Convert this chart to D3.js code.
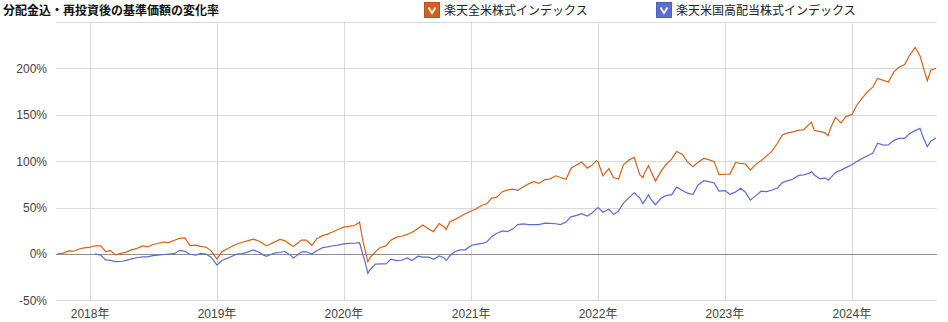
<!DOCTYPE html>
<html>
<head>
<meta charset="utf-8">
<script src="https://cdn.jsdelivr.net/npm/d3@7"></script>
<style>
  body { margin: 0; background: #fff; }
  text { font-family: "Liberation Sans", Arial, "Noto Sans CJK JP", sans-serif; }
  .jp { font-family: "Noto Sans CJK JP", "Liberation Sans", sans-serif; }
</style>
</head>
<body>
<div id="chart"></div>
<script>
// data (roughly semi-monthly points, % change)
var dates = [
  "2017-09-29","2017-10-15","2017-11-01","2017-11-15","2017-12-01","2017-12-15",
  "2018-01-01","2018-01-15","2018-02-01","2018-02-15","2018-03-01","2018-03-15","2018-04-01","2018-04-15","2018-05-01","2018-05-15","2018-06-01","2018-06-15","2018-07-01","2018-07-15","2018-08-01","2018-08-15","2018-09-01","2018-09-15","2018-10-01","2018-10-15","2018-11-01","2018-11-15","2018-12-01","2018-12-15",
  "2019-01-01","2019-01-15","2019-02-01","2019-02-15","2019-03-01","2019-03-15","2019-04-01","2019-04-15","2019-05-01","2019-05-15","2019-05-24","2019-06-01","2019-06-15","2019-07-01","2019-07-15","2019-08-01","2019-08-08","2019-08-15","2019-09-01","2019-09-15","2019-10-01","2019-10-15","2019-11-01","2019-11-15","2019-12-01","2019-12-15",
  "2020-01-01","2020-01-15","2020-02-01","2020-02-15","2020-02-25","2020-03-01","2020-03-10","2020-03-15","2020-04-01","2020-04-15","2020-05-01","2020-05-15","2020-06-01","2020-06-15","2020-07-01","2020-07-15","2020-08-01","2020-08-15","2020-09-01","2020-09-15","2020-10-01","2020-10-15","2020-10-21","2020-11-01","2020-11-15","2020-12-01","2020-12-15",
  "2021-01-01","2021-01-15","2021-02-01","2021-02-15","2021-03-01","2021-03-15","2021-04-01","2021-04-15","2021-05-01","2021-05-15","2021-06-01","2021-06-15","2021-07-01","2021-07-15","2021-08-01","2021-08-15","2021-09-01","2021-09-15","2021-10-01","2021-10-15","2021-11-01","2021-11-15","2021-12-01","2021-12-15","2021-12-27",
  "2022-01-01","2022-01-15","2022-02-01","2022-02-15","2022-03-01","2022-03-15","2022-04-01","2022-04-15","2022-05-01","2022-05-10","2022-05-15","2022-05-26","2022-06-01","2022-06-15","2022-07-01","2022-07-15","2022-08-01","2022-08-15","2022-09-01","2022-09-15","2022-10-01","2022-10-15","2022-11-01","2022-11-15","2022-12-01","2022-12-15",
  "2023-01-01","2023-01-15","2023-02-01","2023-02-15","2023-03-01","2023-03-15","2023-04-01","2023-04-15","2023-05-01","2023-05-15","2023-06-01","2023-06-15","2023-07-01","2023-07-15","2023-08-01","2023-08-15","2023-09-01","2023-09-07","2023-09-15","2023-10-01","2023-10-15","2023-10-25","2023-11-01","2023-11-15","2023-12-01","2023-12-15",
  "2024-01-01","2024-01-15","2024-02-01","2024-02-15","2024-03-01","2024-03-15","2024-04-01","2024-04-15","2024-05-01","2024-05-15","2024-06-01","2024-06-15","2024-07-01","2024-07-15","2024-07-25","2024-08-05","2024-08-15","2024-08-30"
];

// 楽天全米株式インデックス
var zenbei = [
  0, 0.9, 3.3, 2.9, 5.3, 6.6,
  7.3, 8.8, 8.6, 2.4, 3.6, -1.1, 0.6, 1.9, 4.6, 5.7, 8.6, 7.6, 10.2, 11.2, 12.8, 12.2, 14.8, 16.7, 17.2, 8.9, 9.4, 8.2, 7.2, 3.3,
  -5.6, 2.3, 5.9, 8.5, 11.0, 12.6, 14.4, 15.9, 13.9, 10.6, 8.6, 10.1, 12.7, 15.7, 14.3, 10.0, 7.9, 9.8, 15.0, 14.8, 9.3, 16.5, 19.7, 21.4, 23.9, 26.3,
  28.9, 29.6, 30.6, 34.3, 13.4, 5.4, -8.5, -4.5, 2.5, 6.9, 8.6, 14.8, 18.1, 19.0, 21.0, 23.4, 27.3, 31.1, 26.8, 24.0, 32.7, 29.4, 26.2, 34.6, 37.0, 40.4, 43.3,
  46.3, 48.4, 52.5, 54.0, 60.2, 61.0, 67.1, 68.8, 69.8, 68.5, 72.4, 75.5, 77.9, 76.0, 80.1, 80.6, 84.2, 82.4, 80.5, 92.1, 96.0, 99.0, 92.5, 95.7, 100.5,
  99.2, 84.2, 91.9, 82.1, 80.8, 96.0, 101.5, 104.0, 85.5, 82.2, 87.6, 95.2, 90.2, 78.5, 88.9, 96.2, 102.4, 110.5, 107.3, 99.2, 94.0, 98.5, 102.9, 101.6, 99.5, 85.5,
  85.9, 86.0, 98.6, 97.5, 96.9, 90.3, 97.1, 100.5, 105.7, 110.3, 119.3, 128.2, 130.5, 131.5, 133.4, 133.7, 140.2, 142.0, 133.2, 131.8, 130.7, 127.5, 136.1, 147.1, 141.2, 148.0,
  150.1, 160.3, 168.6, 175.0, 179.7, 189.1, 187.0, 185.3, 196.2, 201.2, 204.1, 214.1, 222.7, 213.4, 200.3, 186.7, 198.1, 200.2
];

// 楽天米国高配当株式インデックス (starts Jan 2018)
var kohaitou = [
  null, null, null, null, null, null,
  null, 0, -1.4, -6.5, -7.0, -8.3, -8.2, -6.9, -5.3, -4.1, -3.1, -3.1, -1.9, -1.4, -0.6, -0.1, 0.3, 3.9, 2.8, -0.4, -1.2, 0.5, -0.2, -3.6,
  -12.0, -7.1, -4.5, -2.2, 0.2, 0.3, 2.2, 4.3, 2.0, -1.3, -2.6, -1.2, 0.9, 1.8, 2.6, -1.4, -4.3, -2.7, 2.3, 2.3, -0.2, 3.4, 6.8, 7.5, 8.8, 9.4,
  10.8, 11.4, 11.5, 12.2, -1.4, -7.0, -21.0, -17.5, -11.0, -10.7, -10.7, -5.6, -7.2, -6.8, -4.4, -7.1, -2.5, -3.4, -3.4, -5.8, -2.2, -4.1, -7.2, -2.0, 2.6, 4.3, 4.4,
  9.1, 10.3, 11.3, 12.9, 18.6, 22.1, 24.8, 24.0, 27.0, 31.6, 32.4, 31.6, 31.6, 31.6, 33.1, 32.9, 32.5, 31.6, 34.4, 40.0, 41.6, 43.4, 40.8, 44.1, 48.5,
  50.1, 44.9, 48.1, 42.6, 46.4, 54.8, 61.0, 65.8, 60.2, 54.3, 56.9, 63.9, 59.4, 53.0, 60.0, 62.8, 63.9, 72.0, 68.4, 65.5, 64.0, 74.1, 78.9, 77.9, 76.5, 67.7,
  68.3, 64.3, 66.9, 70.8, 66.5, 57.9, 63.1, 67.6, 67.1, 68.6, 71.1, 76.9, 79.0, 80.5, 84.6, 85.3, 87.0, 88.7, 85.0, 81.0, 82.0, 79.4, 82.2, 87.8, 90.3, 93.0,
  96.2, 99.5, 103.2, 105.9, 108.4, 119.3, 117.2, 117.5, 122.4, 124.5, 124.5, 129.8, 132.9, 135.3, 124.7, 115.6, 121.6, 125.0
];

var seriesNames = ["楽天全米株式インデックス", "楽天米国高配当株式インデックス"];
var seriesColors = ["#d2621a", "#5a6dd3"];
var yTicks = [-50, 0, 50, 100, 150, 200, 250];
var xTickYears = ["2018", "2019", "2020", "2021", "2022", "2023", "2024"];

var svgWidth = 948;
var svgHeight = 322;

var svg = d3.select("#chart")
  .append("svg")
  .attr("width", svgWidth)
  .attr("height", svgHeight);

var parseDate = d3.timeParse("%Y-%m-%d");

var xScale = d3.scaleTime()
  .domain([parseDate("2017-09-25"), parseDate("2024-09-01")])
  .range([56, 936.7]);

var yScale = d3.scaleLinear()
  .domain([-50, 250])
  .range([300.3, 22]);

// gridlines
var grid = svg.append("g");

grid.selectAll("line.h")
  .data(yTicks)
  .enter()
  .append("line")
  .attr("x1", xScale.range()[0])
  .attr("x2", xScale.range()[1])
  .attr("y1", d => Math.round(yScale(d)) + 0.5)
  .attr("y2", d => Math.round(yScale(d)) + 0.5)
  .attr("stroke", "#d9d9d9");

grid.selectAll("line.v")
  .data(xTickYears)
  .enter()
  .append("line")
  .attr("x1", d => Math.round(xScale(parseDate(d + "-01-01"))) + 0.5)
  .attr("x2", d => Math.round(xScale(parseDate(d + "-01-01"))) + 0.5)
  .attr("y1", yScale.range()[1])
  .attr("y2", yScale.range()[0])
  .attr("stroke", "#d9d9d9");

// zero line
svg.append("line")
  .attr("x1", xScale.range()[0])
  .attr("x2", xScale.range()[1])
  .attr("y1", Math.round(yScale(0)) + 0.5)
  .attr("y2", Math.round(yScale(0)) + 0.5)
  .attr("stroke", "#8c8c8c");

// y axis labels
svg.append("g")
  .selectAll("text")
  .data(yTicks.filter(d => d < 250))
  .enter()
  .append("text")
  .attr("x", 47)
  .attr("y", d => yScale(d) + 4.5)
  .attr("text-anchor", "end")
  .attr("font-size", 12)
  .attr("fill", "#444")
  .text(d => d + "%");

// x axis labels
svg.append("g")
  .selectAll("text")
  .data(xTickYears)
  .enter()
  .append("text")
  .attr("x", d => xScale(parseDate(d + "-01-01")))
  .attr("y", 318)
  .attr("text-anchor", "middle")
  .attr("font-size", 12)
  .attr("fill", "#444")
  .text(d => d + "年");

// lines
var rows = dates.map(function(d, i) {
  return { date: parseDate(d), a: zenbei[i], b: kohaitou[i] };
});

var lineA = d3.line()
  .x(d => xScale(d.date))
  .y(d => yScale(d.a));

var lineB = d3.line()
  .defined(d => d.b !== null)
  .x(d => xScale(d.date))
  .y(d => yScale(d.b));

svg.append("path")
  .datum(rows)
  .attr("fill", "none")
  .attr("stroke", seriesColors[0])
  .attr("stroke-width", 1.2)
  .attr("d", lineA);

svg.append("path")
  .datum(rows)
  .attr("fill", "none")
  .attr("stroke", seriesColors[1])
  .attr("stroke-width", 1.2)
  .attr("d", lineB);

// title
svg.append("text")
  .attr("class", "jp")
  .attr("x", 3)
  .attr("y", 15)
  .attr("font-size", 12)
  .attr("font-weight", "bold")
  .attr("fill", "#111")
  .text("分配金込・再投資後の基準価額の変化率");

// legend with checkboxes
var legendX = [424, 656];
var legend = svg.append("g")
  .selectAll("g")
  .data(seriesNames)
  .enter()
  .append("g")
  .attr("transform", (d, i) => `translate(${legendX[i]}, 2)`);

legend.append("rect")
  .attr("x", 0.5)
  .attr("y", 0.5)
  .attr("width", 15)
  .attr("height", 15)
  .attr("fill", (d, i) => seriesColors[i])
  .attr("stroke", (d, i) => d3.color(seriesColors[i]).darker(0.4));

legend.append("path")
  .attr("d", "M4.5,5.5 L8,11 L11.5,5.5")
  .attr("fill", "none")
  .attr("stroke", "#fff")
  .attr("stroke-width", 1.8);

legend.append("text")
  .attr("class", "jp")
  .attr("x", 20)
  .attr("y", 13)
  .attr("font-size", 12)
  .attr("fill", "#222")
  .text(d => d);
</script>
</body>
</html>
